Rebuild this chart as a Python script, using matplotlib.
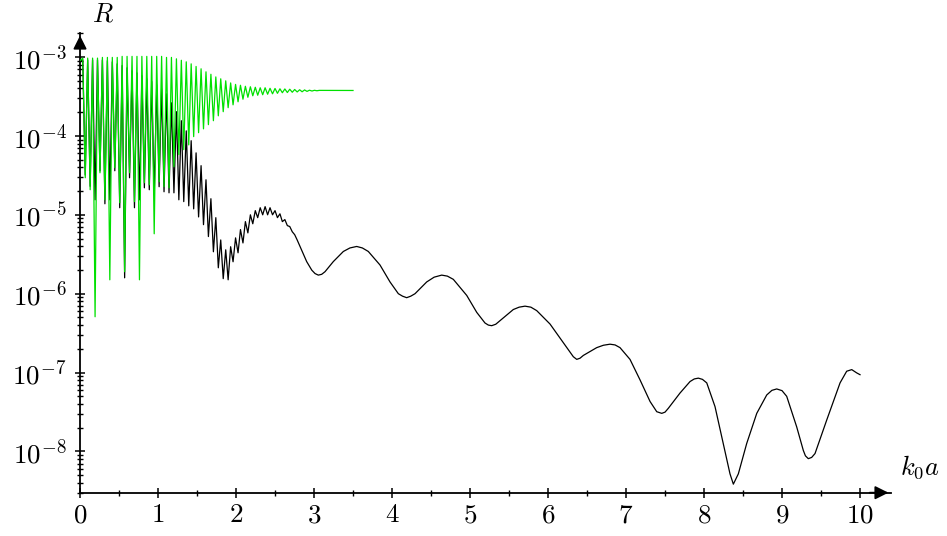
import numpy as np
import matplotlib.pyplot as plt
from matplotlib.ticker import MultipleLocator, LogLocator, FixedLocator, FuncFormatter, NullFormatter

plt.rcParams['mathtext.fontset'] = 'cm'

# k0*a positions of the fast oscillation maxima / minima
peak_x = [0.035, 0.098, 0.161, 0.224, 0.287, 0.351, 0.414, 0.477, 0.540, 0.603,
          0.667, 0.730, 0.793, 0.856, 0.919, 0.983, 1.046, 1.109, 1.172, 1.236,
          1.299, 1.362, 1.425, 1.488, 1.552, 1.615, 1.678, 1.741, 1.804, 1.868,
          1.931, 1.994, 2.057, 2.120, 2.184, 2.247, 2.310, 2.373, 2.436, 2.500,
          2.563, 2.626, 2.689, 2.752, 2.816, 2.879, 2.942, 3.005, 3.068]
trough_x = [0.067, 0.130, 0.193, 0.256, 0.319, 0.382, 0.446, 0.509, 0.572, 0.635,
            0.698, 0.762, 0.825, 0.888, 0.951, 1.014, 1.077, 1.141, 1.204, 1.267,
            1.330, 1.394, 1.457, 1.520, 1.583, 1.646, 1.710, 1.773, 1.836, 1.899,
            1.962, 2.026, 2.089, 2.152, 2.215, 2.278, 2.342, 2.405, 2.468, 2.531,
            2.594, 2.658, 2.721, 2.784, 2.847, 2.910, 2.974, 3.037]

# green curve
green_peaks = [9.7e-4, 9.7e-4, 9.7e-4, 9.7e-4, 9.9e-4, 9.9e-4, 9.9e-4, 9.9e-4, 1.02e-3, 1.02e-3,
               1.02e-3, 1.02e-3, 1.02e-3, 1.02e-3, 1.02e-3, 1.02e-3, 1.02e-3, 9.9e-4, 9.9e-4, 9.5e-4,
               9.1e-4, 8.7e-4, 8.2e-4, 7.6e-4, 7.1e-4, 6.5e-4, 6.05e-4, 5.6e-4, 5.3e-4, 5.0e-4,
               4.7e-4, 4.5e-4, 4.39e-4, 4.26e-4, 4.2e-4, 4.14e-4, 4.08e-4, 4.08e-4, 4.02e-4, 4.0e-4,
               3.96e-4, 3.94e-4, 3.91e-4, 3.88e-4, 3.85e-4, 3.83e-4, 3.80e-4, 3.79e-4, 3.78e-4]
green_troughs = [2.95e-5, 2.08e-5, 5.1e-7, 3.41e-5, 1.55e-5, 1.5e-6, 3.95e-5, 1.42e-5, 1.9e-6, 3.41e-5,
                 1.47e-5, 1.5e-6, 2.55e-5, 2.4e-5, 5.75e-6, 2.62e-5, 2.27e-5, 2.2e-5, 4.07e-5, 5.8e-5,
                 6.7e-5, 7.7e-5, 9.8e-5, 1.1e-4, 1.23e-4, 1.39e-4, 1.56e-4, 1.8e-4, 2.03e-4, 2.28e-4,
                 2.48e-4, 2.71e-4, 2.92e-4, 3.09e-4, 3.23e-4, 3.28e-4, 3.33e-4, 3.38e-4, 3.42e-4, 3.47e-4,
                 3.53e-4, 3.55e-4, 3.58e-4, 3.61e-4, 3.63e-4, 3.67e-4, 3.71e-4, 3.74e-4]
green_start = 9.0e-4
green_end_x = 3.5
green_end = 3.77e-4

# black curve
black_peaks = [9.2e-4, 9.2e-4, 9.2e-4, 9.2e-4, 9.2e-4, 9.0e-4, 8.7e-4, 8.2e-4, 7.8e-4, 7.3e-4,
               6.7e-4, 6.3e-4, 5.8e-4, 5.3e-4, 4.9e-4, 4.45e-4, 3.96e-4, 3.42e-4, 2.63e-4, 2.03e-4,
               1.56e-4, 1.16e-4, 8.7e-5, 6.1e-5, 4.2e-5, 2.78e-5, 1.6e-5, 9.2e-6, 4.8e-6, 3.6e-6,
               3.94e-6, 5.1e-6, 6.5e-6, 8.2e-6, 1.0e-5, 1.13e-5, 1.23e-5, 1.27e-5, 1.23e-5, 1.13e-5,
               1.03e-5, 8.7e-6, 7.1e-6, 5.6e-6]
black_troughs = [3.2e-5, 2.3e-5, 1.55e-5, 3.6e-5, 1.38e-5, 1.55e-5, 3.62e-5, 1.23e-5, 1.59e-6, 2.95e-5,
                 1.23e-5, 1.55e-5, 2.2e-5, 2.08e-5, 1.8e-5, 2.27e-5, 1.96e-5, 1.9e-5, 1.9e-5, 1.55e-5,
                 1.47e-5, 1.3e-5, 1.19e-5, 9.4e-6, 7.5e-6, 5.3e-6, 3.4e-6, 2.13e-6, 1.55e-6, 1.5e-6,
                 2.54e-6, 3.3e-6, 4.4e-6, 5.9e-6, 7.7e-6, 9.2e-6, 1.0e-5, 1.0e-5, 1.0e-5, 9.2e-6,
                 8.2e-6, 7.3e-6, 6.1e-6, 4.8e-6]
black_start = 9.0e-4
tail_x = [2.906, 2.971, 3.013, 3.055, 3.098, 3.141, 3.247, 3.376, 3.46, 3.547,
          3.62, 3.696, 3.846, 3.974, 4.081, 4.135, 4.188, 4.24, 4.295, 4.445,
          4.54, 4.637, 4.71, 4.786, 4.958, 5.086, 5.192, 5.235, 5.278, 5.33,
          5.385, 5.555, 5.63, 5.705, 5.78, 5.855, 6.026, 6.196, 6.324, 6.368,
          6.41, 6.453, 6.624, 6.71, 6.795, 6.86, 6.923, 7.051, 7.179, 7.308,
          7.394, 7.458, 7.50, 7.542, 7.692, 7.821, 7.875, 7.927, 7.98, 8.035,
          8.141, 8.247, 8.333, 8.376, 8.440, 8.547, 8.676, 8.804, 8.87, 8.932,
          9.0, 9.060, 9.188, 9.273, 9.30, 9.337, 9.38, 9.423, 9.573, 9.744,
          9.829, 9.894, 9.958, 10.0]
tail_R = [2.55e-6, 1.99e-6, 1.80e-6, 1.72e-6, 1.76e-6, 1.90e-6, 2.55e-6, 3.43e-6, 3.8e-6, 3.97e-6,
          3.8e-6, 3.43e-6, 2.31e-6, 1.41e-6, 1.0e-6, 9.3e-7, 8.9e-7, 9.3e-7, 1.0e-6, 1.41e-6,
          1.62e-6, 1.72e-6, 1.67e-6, 1.52e-6, 9.5e-7, 5.8e-7, 4.25e-7, 4.0e-7, 3.93e-7, 4.1e-7,
          4.55e-7, 6.3e-7, 6.75e-7, 6.95e-7, 6.75e-7, 6.1e-7, 4.12e-7, 2.4e-7, 1.59e-7, 1.47e-7,
          1.52e-7, 1.65e-7, 2.07e-7, 2.22e-7, 2.29e-7, 2.24e-7, 2.07e-7, 1.47e-7, 8.1e-8, 4.3e-8,
          3.19e-8, 3.04e-8, 3.15e-8, 3.52e-8, 5.5e-8, 7.7e-8, 8.3e-8, 8.5e-8, 8.2e-8, 7.4e-8,
          3.7e-8, 1.26e-8, 5.2e-9, 3.85e-9, 5.2e-9, 1.26e-8, 3.04e-8, 5.2e-8, 5.95e-8, 6.2e-8,
          5.9e-8, 5.0e-8, 2.05e-8, 1.03e-8, 8.8e-9, 8.1e-9, 8.4e-9, 9.4e-9, 2.5e-8, 7.4e-8,
          1.04e-7, 1.09e-7, 9.9e-8, 9.4e-8]

y_major = [1e-8, 1e-7, 1e-6, 1e-5, 1e-4, 1e-3]


def zigzag(px, py, tx, ty):
    n = min(len(tx), len(ty))
    xs = np.column_stack((px[:n], tx[:n])).ravel()
    ys = np.column_stack((py[:n], ty[:n])).ravel()
    return list(xs), list(ys)


gx, gy = zigzag(peak_x, green_peaks, trough_x, green_troughs)
gx = [0.0] + gx + [peak_x[-1], green_end_x]
gy = [green_start] + gy + [green_peaks[-1], green_end]

bx, by = zigzag(peak_x, black_peaks, trough_x, black_troughs)
bx = [0.0] + bx + tail_x
by = [black_start] + by + tail_R

fig = plt.figure(figsize=(9.47, 5.36), dpi=100)
ax = fig.add_axes([0.0845, 0.0808, 0.8566, 0.858])
ax.set_yscale('log')

ax.plot(bx, by, color='black', lw=0.9, zorder=2)
ax.plot(gx, gy, color='#00e000', lw=0.9, zorder=3)

ax.set_xlim(0, 10.4)
ax.set_ylim(3e-9, 2.03e-3)

for s in ['top', 'right']:
    ax.spines[s].set_visible(False)
for s in ['left', 'bottom']:
    ax.spines[s].set_linewidth(1.3)

ax.xaxis.set_major_locator(MultipleLocator(1))
ax.xaxis.set_minor_locator(MultipleLocator(0.5))
ax.xaxis.set_major_formatter(FuncFormatter(lambda v, p: r'$%d$' % round(v)))
ax.yaxis.set_major_locator(FixedLocator(y_major))
ax.yaxis.set_minor_locator(LogLocator(base=10, subs=np.arange(2, 10), numticks=20))
ax.yaxis.set_major_formatter(FuncFormatter(lambda v, p: r'$10^{%d}$' % round(np.log10(v))))
ax.yaxis.set_minor_formatter(NullFormatter())

ax.tick_params(which='major', direction='inout', length=7.5, width=1.1, labelsize=19.5)
ax.tick_params(which='minor', direction='inout', length=4.5, width=1.0)
ax.tick_params(axis='x', which='major', pad=3)
ax.tick_params(axis='y', which='major', pad=6)

# arrow heads on the axes
ax.annotate('', xy=(1.0, 0), xytext=(0.97, 0), xycoords='axes fraction',
            arrowprops=dict(arrowstyle='-|>', color='k', lw=1.3, mutation_scale=20))
ax.annotate('', xy=(0, 1.0), xytext=(0, 0.96), xycoords='axes fraction',
            arrowprops=dict(arrowstyle='-|>', color='k', lw=1.3, mutation_scale=20))

fig.text(103 / 947, 1 - 15 / 536, r'$R$', fontsize=19, ha='center', va='center')
fig.text(920 / 947, 1 - 467 / 536, r'$k_0a$', fontsize=19, ha='center', va='center')

fig.savefig('out.png', dpi=100)
